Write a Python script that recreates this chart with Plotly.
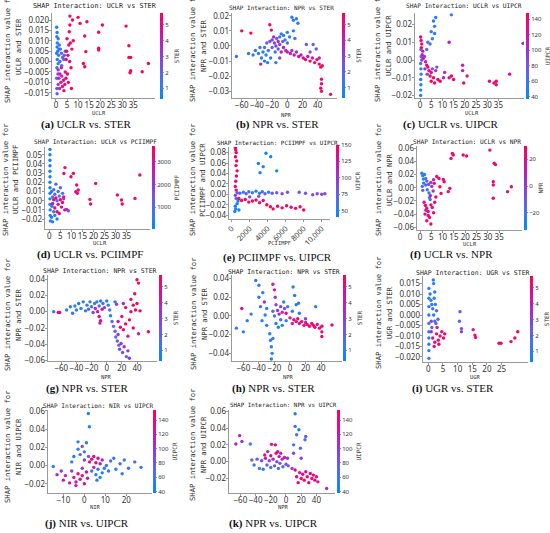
import plotly.graph_objects as go

W, H = 550, 533

# ---- data: (feature value, SHAP interaction value, colour feature value)
pts_a = [(0.3,0.0165,0.8),(0.5,0.014,1),(0.4,0.012,0.9),(1.0,0.011,1.2),(0.6,0.009,1),(1.5,0.008,1.3),(0.5,0.007,0.8),
         (2.0,0.006,1.5),(0.8,0.005,1),(2.5,0.004,1.8),(1.2,0.003,1.1),(3.0,0.002,2),(0.6,0.001,0.9),(1.8,0.000,1.4),
         (3.5,0.001,2.2),(1.0,-0.001,1.2),(2.6,-0.002,2.5),(0.4,-0.003,1),(3.8,0.003,2.8),(4.2,0.005,2.5),(0.3,-0.008,1.5),
         (0.4,-0.013,2),(0.5,-0.0155,2.2),(0.3,0.004,1),(1.4,0.006,1),
         (1.0,-0.004,3.5),(1.8,-0.006,4),(2.6,-0.007,4.5),(1.3,-0.008,3.8),(3.4,-0.009,5),(2.2,-0.010,4.8),(4.0,-0.011,5.2),
         (2.9,-0.012,5),(1.6,-0.013,4.2),(3.6,-0.014,5.5),(4.5,-0.008,5.3),(1.0,-0.011,3),(2.4,-0.003,4),(4.2,-0.005,5),
         (0.9,-0.006,3.2),
         (5.0,0.011,5.2),(5.8,0.008,5.5),(6.5,0.009,5.3),(4.8,0.005,5),(5.4,0.003,5.4),(7.2,0.006,5.5),(6.2,0.000,5.2),
         (4.6,0.001,4.8),(6.8,-0.003,5.6),(5.2,-0.006,5.3),(7.8,0.010,5.5),(5.6,-0.010,5.5),(6.0,0.0144,5.5),
         (6.3,0.0176,5.6),(7.0,-0.013,5.4),
         (6.3,0.0219,5.5),(7.5,0.020,5.5),(10,0.0213,5.5),(10.9,0.0184,5.5),(14,0.0192,5.5),(21,0.0176,5.5),
         (31.7,0.0171,5.5),(19.3,0.0141,5.5),(13,0.0123,5.5),(19.3,0.0064,5.5),(19.3,0.0056,5.5),(33,0.0076,5.5),
         (33,0.002,5.5),(33.8,0.002,5.5),(13.5,0.0048,5.5),(12.4,-0.0009,5.5),(13,-0.0025,5.5),(33.8,-0.0044,5.5),
         (33.5,-0.0054,5.5),(39,-0.0049,5.5),(41.8,-0.0009,5.5)]

pts_b = [(-67,-0.007,1),(-51,-0.005,1),(-45,-0.006,1.2),(-42,-0.003,1),(-38,-0.005,1),(-36,-0.001,1.3),(-34,-0.008,1),
         (-32,-0.004,1.1),(-30,-0.010,1),(-30,-0.001,1.5),(-28,-0.006,1),(-27,0.002,2),(-26,-0.011,1),(-25,-0.003,1.2),
         (-23,0.003,2.5),(-22,-0.008,1),(-20,0.004,3),(-20,-0.001,2),(-18,0.006,3.5),(-17,0.002,3),(-16,-0.004,1.5),
         (-15,0.000,3),(-14,0.005,2.5),(-12,0.003,3.5),(-12,-0.002,2),(-10,0.006,1.5),(-10,0.001,3),(-8,0.008,1),
         (-8,-0.004,4),(-6,0.003,2),(-5,-0.001,4.5),(-5,0.007,1),(-3,0.004,1.2),(-2,-0.003,4),(0,0.009,1),(0,0.002,1.5),
         (3,0.006,1),(6,0.019,1),(8,0.017,1),(12,0.018,1.2),(14,0.015,1),(8,0.010,1),(10,0.005,1.5),(-23,0.014,5),
         (-21,0.0105,5),(-60,0.010,5.5),(-48,0.0085,5.5),(-35,-0.012,4),(0,-0.004,4),(4,-0.005,4.5),(6,-0.003,3),
         (9,-0.006,4.5),(12,-0.004,3.5),(15,-0.007,5),(18,-0.006,4),(21,-0.008,5),(24,-0.009,5.2),(27,-0.007,4.5),
         (30,-0.010,5.5),(33,-0.008,4),(36,-0.011,5.3),(39,-0.009,5),(42,-0.012,5.5),(44,-0.014,5.4),(46,-0.013,5.6),
         (25,0.001,2),(30,-0.004,2.5),(34,0.001,2),(38,-0.002,2),(42,-0.008,4),(45,-0.022,5),(45,-0.025,5.3),
         (44,-0.028,5.5),(45,-0.030,5.5),(57,-0.032,5.5),(-10,-0.008,3),(-15,-0.011,1)]

pts_c = [(0.3,-0.020,45),(0.3,-0.017,50),(0.4,-0.014,48),(0.3,-0.011,52),(0.5,-0.008,55),(0.4,-0.005,50),(0.3,-0.002,60),
         (0.5,0.002,58),(0.4,0.006,55),
         (0.3,0.013,140),(0.5,0.011,130),(0.8,0.009,135),(0.6,0.007,145),(1.2,0.005,120),(1.0,0.003,110),(1.5,0.001,130),
         (0.8,0.000,100),
         (2.0,0.002,95),(2.5,-0.001,115),(3.0,-0.003,130),(2.2,-0.005,100),(3.5,-0.004,140),(4.0,-0.006,135),
         (5.0,-0.007,145),(4.5,-0.009,140),(6.0,-0.010,145),(3.2,-0.008,90),(5.5,-0.005,85),(7.0,-0.006,100),
         (7.5,-0.004,80),
         (5.0,-0.012,145),(6.5,-0.013,148),(8.0,-0.011,140),(9.0,-0.012,145),(10.5,-0.010,110),
         (4.5,0.009,60),(5.5,0.012,55),(5.0,0.016,50),(6.5,0.015,50),(6.0,0.022,50),(7.0,0.024,48),(6.5,0.019,52),
         (3.5,0.010,65),(3.0,0.006,70),
         (14,0.0255,55),(13,0.010,110),(11,-0.007,100),(13,-0.010,130),(14,-0.009,140),(15,-0.011,145),(19,-0.003,110),
         (19,-0.006,115),(21,-0.009,120),(19.5,-0.013,140),(33,-0.013,140),(34,-0.012,145),(34,-0.014,140),
         (31,-0.012,135),(40,-0.008,130),(46,0.0094,100)]

pts_d = [(0.3,0.0558,300),(0.3,0.050,300),(0.3,0.044,320),(0.3,0.038,300),(0.3,0.032,310),(0.3,0.026,300),
         (0.3,0.020,330),(0.3,0.014,310),(0.3,0.008,320),(0.3,0.002,300),(0.3,-0.004,340),(0.4,-0.010,350),
         (0.4,-0.016,380),(0.5,-0.022,360),
         (1.0,-0.018,400),(1.5,-0.023,420),(2.0,-0.012,500),(2.5,-0.016,450),(1.2,-0.006,600),(3.5,-0.020,500),
         (1.0,0.010,500),(1.5,0.004,700),
         (2.0,0.012,900),(3.0,0.018,1100),(4.0,0.010,800),(5.0,0.014,1200),(6.0,0.008,700),(4.5,0.005,1300),
         (6.5,0.002,1500),(3.5,0.000,1000),(2.5,0.007,1200),
         (1.5,-0.003,2800),(2.5,-0.008,3200),(3.5,-0.012,3400),(4.0,-0.004,3100),(5.0,0.001,3300),(5.5,-0.007,3400),
         (6.5,0.004,3200),(2.0,0.001,3000),(3.0,0.003,3300),(4.5,-0.014,3400),(7.0,-0.010,3200),(6.0,-0.002,3300),
         (7.8,-0.0094,2000),(8.6,-0.011,1800),
         (6.6,0.0297,3400),(7.1,0.036,3400),(9.8,0.026,3300),(10.9,0.0297,3400),(12.4,0.017,3300),(13.1,0.0116,3300),
         (12,0.0098,3400),(12.7,0.008,3300),(21,0.0188,3300),(18.4,0.0014,3400),(18.7,-0.0036,3400),(30.8,0.0062,3300),
         (32.7,0.0007,3400),(33,-0.0036,3400),(38.8,0.0025,3300),(41,0.028,3400)]

pts_e = [(400,0.089,148),(450,0.085,145),(500,0.080,150),(420,0.072,145),(550,0.064,148),(480,0.055,146),
         (600,0.045,148),(520,0.035,145),(450,0.025,140),(400,0.015,135),(500,0.008,140),
         (350,-0.033,45),(450,-0.028,48),(400,-0.023,50),(600,-0.018,45),(700,-0.013,55),(800,-0.030,48),(500,-0.008,52),
         (400,-0.002,100),(600,0.003,90),(900,0.002,70),(1300,0.004,60),(1600,0.001,75),(1900,0.005,55),(2300,0.003,65),
         (2700,0.006,50),(3100,0.002,60),(3400,0.005,55),(3700,0.001,80),(4100,0.004,60),(4500,0.002,75),
         (5000,0.003,80),(5600,0.001,85),(6200,0.004,80),(7500,0.004,80),(8200,0.002,85),(9000,-0.001,85),
         (9500,0.001,90),(10000,0.000,85),(10350,0.001,90),
         (800,-0.008,140),(1100,-0.012,145),(1500,-0.010,148),(1900,-0.015,145),(2300,-0.013,150),(2700,-0.011,145),
         (3100,-0.016,148),(3500,-0.012,145),(3900,-0.020,150),(4300,-0.024,148),(4600,-0.028,145),(5100,-0.023,150),
         (5600,-0.026,148),(6100,-0.022,145),(6600,-0.025,150),(7100,-0.027,148),(7600,-0.024,145),(8000,-0.030,150),
         (2960,0.059,50),(3810,0.0786,45),(4330,0.072,48),(3150,0.0415,50),(5000,0.045,45),(3500,0.053,52),
         (2000,-0.005,90),(3000,-0.004,85)]

pts_f = [(0.8,0.022,-32),(1.2,0.018,-25),(1.5,0.013,-28),(2.0,0.020,-20),(2.5,0.014,-22),(1.6,0.007,-25),(1.0,0.002,-15),
         (2.5,0.004,-25),(3.2,-0.003,-20),(3.0,0.010,-10),(4.0,-0.008,-25),(4.2,-0.015,-20),(3.8,0.005,-5),
         (1.2,-0.004,-10),(4.5,-0.018,-22),
         (4.8,0.008,0),(5.2,0.002,5),(6.0,0.012,10),(5.8,-0.005,5),(4.6,-0.012,12),
         (1.8,-0.022,20),(2.4,-0.027,25),(3.0,-0.031,22),(3.6,-0.036,25),(2.2,-0.040,20),(4.2,-0.045,28),(3.0,-0.050,25),
         (4.8,-0.055,28),(3.6,-0.042,24),(5.4,-0.030,20),(6.5,-0.022,25),(6.0,-0.038,22),(4.8,-0.026,26),
         (2.6,-0.034,18),(7.0,-0.014,25),
         (7.4,0.017,25),(8.4,0.014,25),(10.3,0.0126,25),(10.7,0.009,25),(6.3,0.0066,25),(13.2,-0.001,25),
         (12.5,-0.006,25),(14.3,0.052,25),(14.7,0.0495,25),(13.7,0.0444,25),(19.1,0.0495,25),(20.6,0.048,25),
         (30.9,0.057,25),(32.8,0.037,25),(33.4,0.035,25),(32.4,0.009,25),(32.4,0.004,25),(32.4,-0.016,25),
         (38.7,-0.006,20),(40.4,0.0015,25),(9.3,-0.0086,25),(8.8,0.0015,25)]

pts_g = [(-70,0.000,1),(-64,-0.001,5),(-62,-0.001,5),(-53,0.002,1),(-48,0.006,1),(-45,-0.002,1),(-42,0.007,1.2),
         (-40,0.002,1),(-37,0.010,1),(-34,0.004,1.3),(-31,0.012,1),(-28,0.001,1),(-26,0.008,1.5),(-24,0.003,2),
         (-22,0.012,1),(-20,0.006,1.2),(-18,-0.001,3),(-16,0.010,1.5),(-15,0.004,4),(-13,0.012,1),(-12,0.000,4.5),
         (-10,0.007,2),(-10,-0.006,5),(-8,0.013,1),(-8,-0.011,5),(-6,0.003,4),(-5,0.010,1.5),(-9,-0.014,4.5),
         (-3,0.005,3),(0,0.013,1),(2,0.008,1),(4,0.002,1.5),(5,-0.005,1),(7,-0.012,1.5),(11,0.012,1),(13,0.009,3),
         (9,-0.018,2),(11,-0.024,2.5),(12,-0.031,2),(14,-0.036,2.5),(15,-0.028,3),(16,-0.041,2),(17,-0.046,2.5),
         (19,-0.039,3),(21,-0.050,2.5),(23,-0.043,3.5),(26,-0.055,2),(28,-0.048,3),(30,-0.057,3),(15,-0.012,4.5),
         (18,-0.019,5),(20,-0.006,5),(22,-0.022,5.3),(25,-0.015,5.5),(25,0.005,5),(28,-0.030,4.5),(30,-0.010,5.5),
         (32,0.000,5.3),(35,0.008,5.5),(35,-0.020,5),(38,0.002,5.5),(40,0.010,5.5),(40,0.039,5.5),(42,0.035,5.4),
         (37,0.022,5.5),(44,0.001,5.5),(55,-0.0245,5.5),(32,0.015,5),(22,0.010,4),(42,-0.027,4)]

pts_h = [(-69,-0.013,1),(-62,0.008,5),(-60,-0.017,1),(-55,-0.005,1),(-50,0.002,1),(-44,0.038,1),(-40,0.033,1.2),
         (-40,0.020,1),(-38,0.010,1.5),(-36,-0.005,1),(-35,0.025,1),(-33,0.015,3.5),(-32,0.001,1),(-30,-0.010,1),
         (-30,0.008,1.3),(-22,0.034,4),(-20,0.028,4.5),(-19,0.020,3),(-26,-0.019,1),(-25,-0.026,1),(-24,-0.033,1),
         (-23,-0.040,1),(-24,-0.046,1),(-22,-0.024,1.2),(-22,0.005,2),(-20,0.000,1.5),(-18,0.012,3),(-18,-0.008,1),
         (-16,0.006,3.5),(-14,0.002,4),(-15,-0.012,1),(-12,0.010,3),(-12,-0.004,1.2),(-10,0.004,3.5),(-10,-0.010,1),
         (-8,0.015,1),(-7,0.008,2.5),(-5,0.003,5),(-5,-0.005,1),(-3,0.010,1.5),(0,-0.002,5),(3,0.005,1),(4,0.031,1),
         (6,0.022,1),(8,0.012,1),(11,0.0136,1),(12,0.003,1),(3,-0.008,4),(5,-0.004,5),(8,-0.006,5.2),(10,-0.003,5),
         (12,-0.008,4.5),(15,-0.006,5.3),(18,-0.010,5),(20,-0.007,4),(22,-0.009,5.5),(25,-0.011,5.3),(28,-0.008,5),
         (30,-0.010,5.5),(32,-0.012,5.2),(35,-0.009,5),(38,-0.013,5.5),(41,-0.011,5.4),(41,-0.017,5.5),
         (41,-0.022,5.3),(33,0.010,1),(54,-0.0096,5.5),(20,-0.003,3)]

pts_i = [(0.2,-0.0207,1),(0.2,-0.017,1),(0.2,-0.014,1),(0.2,-0.011,1),(0.2,-0.008,1),(0.2,-0.004,1.2),(0.2,0.000,1),
         (0.2,0.004,1),(0.2,0.008,1),(0.2,0.0127,1),
         (0.6,0.010,1),(0.9,0.007,1.2),(1.2,0.005,1),(1.5,0.003,1.5),(1.8,0.000,1),(2.2,-0.003,1.3),(1.2,-0.006,2),
         (2.0,0.008,1),(2.4,0.005,1.5),(1.7,0.0167,1),(1.8,0.015,1),(2.2,0.011,1),(2.8,0.002,1.5),(3.3,-0.002,2),
         (2.6,-0.004,2.5),(1.0,-0.003,3),
         (1.0,-0.008,3.5),(1.5,-0.011,4.5),(2.2,-0.013,5),(2.8,-0.009,5.2),(3.4,-0.012,5.5),(4.0,-0.010,5),
         (4.6,-0.008,5.3),(5.2,-0.011,5.5),(3.0,-0.006,4),(2.0,-0.015,5),(3.6,-0.014,5.5),(5.6,-0.009,5.4),
         (10.8,0.0016,2.5),(10.6,-0.003,2),(11.3,-0.0065,2.5),(11.3,-0.008,2.8),(15.3,-0.007,4),(15.9,-0.0096,5),
         (16.1,-0.0107,5),(24.1,-0.0135,5.5),(24.8,-0.0135,5.5),(28.2,-0.0127,5.5),(29.5,-0.011,5.5),(30.5,-0.008,5.5)]

pts_j = [(-14.8,-0.001,60),(-13,-0.010,110),(-11,-0.006,100),(-10,-0.016,120),(-9,-0.011,115),(-7,-0.019,125),
         (-6,-0.006,95),(-5,-0.013,130),(-4,-0.018,120),(-3,-0.009,140),(-2,-0.015,135),(-1,-0.011,145),(0,-0.020,130),
         (1,-0.007,140),(1.5,-0.014,125),(-1,-0.003,100),(-6,0.004,60),(-5,0.010,50),(-3,0.018,55),(-2,0.012,70),
         (-1,0.021,90),(0,0.015,60),(1,0.025,50),(2,0.010,80),(0,0.006,100),(-3,0.026,60),(1.9,0.057,50),
         (2.4,0.0425,45),(2.5,0.004,130),(3.5,0.007,145),(4.5,0.010,130),(5.5,0.003,140),(6.5,0.008,135),
         (7.5,0.002,125),(8.5,0.006,110),(4.5,-0.002,120),(3.5,-0.006,60),(5.5,-0.010,50),(6.5,-0.004,55),
         (7.5,-0.013,50),(8.5,-0.008,45),(9.5,-0.003,55),(10.5,0.000,60),(11.5,-0.006,50),(12.5,0.005,70),
         (6,-0.016,50),(14,0.008,60),(15,-0.004,55),(17,0.002,65),(19,0.006,60),(21,-0.003,55),(24,0.004,65),
         (27,-0.002,55),(18,-0.009,60),(-4,-0.022,120)]

pts_k = [(-66,0.021,110),(-61,0.031,120),(-58,0.024,100),(-47,0.021,60),(-45,0.002,70),(-42,-0.004,65),(-38,0.003,80),
         (-35,-0.008,60),(-32,0.001,90),(-30,-0.009,55),(-28,0.008,130),(-27,0.004,120),(-25,-0.004,75),(-24,0.012,120),
         (-22,0.001,95),(-20,0.007,140),(-20,-0.007,60),(-19,0.0206,130),(-17,0.003,110),(-15,-0.005,80),
         (-14,0.020,140),(-13,0.010,135),(-12,0.000,90),(-11,0.012,140),(-10,-0.008,60),(-9,0.006,125),(-8,-0.002,85),
         (-7,0.010,110),(-5,0.003,100),(-4,-0.006,70),(-2,0.005,120),(0,-0.003,80),(2,0.004,100),(3,-0.005,75),
         (12,0.057,50),(12,0.042,55),(14,0.032,60),(17,0.038,50),(25,0.026,55),(10,0.020,60),(19,0.016,65),
         (26,0.030,80),(10,0.010,90),(12,-0.010,140),(14,-0.018,135),(16,-0.025,145),(18,-0.013,130),(20,-0.020,148),
         (22,-0.015,140),(24,-0.022,145),(26,-0.012,135),(28,-0.018,148),(30,-0.025,140),(32,-0.014,145),
         (34,-0.020,140),(36,-0.016,138),(38,-0.022,145),(40,-0.018,140),(42,-0.024,120),(53.5,-0.032,100),
         (8,-0.008,100),(20,0.004,90)]

# tick values
uclr_ticks = [0, 5, 10, 15, 20, 25, 30, 35]
npr_ticks = [-60, -40, -20, 0, 20, 40]
ugr_ticks = [0, 5, 10, 15, 20, 25]
nir_ticks = [-10, 0, 10, 20]
pcii_ticks = [0, 2000, 4000, 6000, 8000, 10000]
pcii_labels = ["0", "2000", "4000", "6000", "8000", "10,000"]
ster_cb = [1, 2, 3, 4, 5]
uipcr_cb = [40, 60, 80, 100, 120, 140]
uipcr_cb_e = [50, 75, 100, 125, 150]
pcii_cb = [1000, 2000, 3000]
npr_cb = [-20, 0, 20]

# SHAP red-blue colormap
red_blue = [[0, "rgb(0,138,250)"], [0.2, "rgb(62,117,244)"], [0.4, "rgb(118,82,233)"], [0.5, "rgb(140,60,225)"],
            [0.6, "rgb(173,40,206)"], [0.8, "rgb(222,12,152)"], [1, "rgb(255,0,82)"]]

MONO = "DejaVu Sans Mono"
SANS = "Noto Sans"
SERIF = "Liberation Serif"

# layout of each panel, in pixels of the 550x533 page
# ylab = (x of first line, x of second line, y centre)
panels = [
    dict(pts=pts_a, box=(52, 155, 13, 98), xr=[-1.8, 44.8], yr=[-0.01755, 0.0234], xt=uclr_ticks,
         yt=[-0.015, -0.010, -0.005, 0.0, 0.005, 0.010, 0.015, 0.020], nd=3, cr=[0.33, 5.74], ct=ster_cb,
         fx="UCLR", fc="STER", cb=(160, 13, 99), title=(95, 6, 6.8), ylab=(7, 18, 47), xlab=(99, 113),
         cap=("(a)", "UCLR vs. STER", 86, 125)),
    dict(pts=pts_b, box=(232, 337, 13, 98), xr=[-72.8, 65.4], yr=[-0.0344, 0.0218], xt=npr_ticks,
         yt=[-0.03, -0.02, -0.01, 0.0, 0.01, 0.02], nd=2, cr=[0.33, 5.74], ct=ster_cb,
         fx="NPR", fc="STER", cb=(342, 13, 98), title=(281, 7, 6.0), ylab=(193, 204, 46), xlab=(286, 115),
         cap=("(b)", "NPR vs. STER", 277, 125)),
    dict(pts=pts_c, box=(415, 524, 13, 98), xr=[-2.23, 46.4], yr=[-0.02147, 0.02655], xt=uclr_ticks,
         yt=[-0.02, -0.01, 0.0, 0.01, 0.02], nd=2, cr=[37, 148], ct=uipcr_cb,
         fx="UCLR", fc="UIPCR", cb=(526, 13, 99), title=(464, 6, 6.2), ylab=(378, 389, 46), xlab=(472, 113),
         cap=("(c)", "UCLR vs. UIPCR", 450, 125)),
    dict(pts=pts_d, box=(45, 150, 147, 229), xr=[-1.95, 45.6], yr=[-0.0308, 0.0584], xt=uclr_ticks,
         yt=[-0.02, -0.01, 0.0, 0.01, 0.02, 0.03, 0.04, 0.05], nd=2, cr=[40, 3690], ct=pcii_cb,
         fx="UCLR", fc="PCIIMPF", cb=(152, 146, 229), title=(95, 142, 6.2), ylab=(5, 15, 180), xlab=(100, 243),
         cap=("(d)", "UCLR vs. PCIIMPF", 90, 255)),
    dict(pts=pts_e, box=(229, 330, 147, 219), xr=[-300, 10922], yr=[-0.0474, 0.0907], xt=pcii_ticks, xtt=pcii_labels,
         yt=[-0.04, -0.02, 0.0, 0.02, 0.04, 0.06, 0.08], nd=2, cr=[40, 150], ct=uipcr_cb_e,
         fx="PCIIMPF", fc="UIPCR", cb=(336, 145, 217), title=(277, 143, 5.9), ylab=(192, 202, 180), xlab=(279, 243),
         cap=("(e)", "PCIIMPF vs. UIPCR", 277, 257)),
    dict(pts=pts_f, box=(417, 522, 146, 230), xr=[-1.33, 45.1], yr=[-0.0641, 0.0632], xt=uclr_ticks,
         yt=[-0.06, -0.04, -0.02, 0.0, 0.02, 0.04, 0.06], nd=2, cr=[-33, 30], ct=npr_cb,
         fx="UCLR", fc="NPR", cb=(524, 146, 230), title=(467, 142, 6.2), ylab=(378, 389, 180), xlab=(470, 244),
         cap=("(f)", "UCLR vs. NPR", 451, 255)),
    dict(pts=pts_g, box=(48, 157, 275, 361), xr=[-77.5, 66.4], yr=[-0.0604, 0.0449], xt=npr_ticks,
         yt=[-0.06, -0.04, -0.02, 0.0, 0.02, 0.04], nd=2, cr=[0.33, 5.74], ct=ster_cb,
         fx="NPR", fc="STER", cb=(159, 275, 361), title=(100, 271, 6.5), ylab=(7, 18, 315), xlab=(106, 377),
         cap=("(g)", "NPR vs. STER", 87, 388)),
    dict(pts=pts_h, box=(232, 342, 275, 361), xr=[-74.6, 66.9], yr=[-0.0482, 0.0439], xt=npr_ticks,
         yt=[-0.04, -0.02, 0.0, 0.02, 0.04], nd=2, cr=[0.33, 5.74], ct=ster_cb,
         fx="NPR", fc="STER", cb=(343, 275, 361), title=(284, 272, 6.4), ylab=(193, 204, 314), xlab=(288, 377),
         cap=("(h)", "NPR vs. STER", 273, 388)),
    dict(pts=pts_i, box=(423, 528, 276, 362), xr=[-1.81, 34.0], yr=[-0.02244, 0.01862], xt=ugr_ticks,
         yt=[-0.020, -0.015, -0.010, -0.005, 0.0, 0.005, 0.010, 0.015], nd=3, cr=[0.33, 5.74], ct=ster_cb,
         fx="UGR", fc="STER", cb=(530, 276, 362), title=(473, 273, 6.5), ylab=(378, 389, 313), xlab=(475, 377),
         cap=("(i)", "UGR vs. STER", 453, 388)),
    dict(pts=pts_j, box=(48, 152, 410, 493), xr=[-17.3, 32.2], yr=[-0.0301, 0.0609], xt=nir_ticks,
         yt=[-0.02, 0.0, 0.02, 0.04, 0.06], nd=2, cr=[38, 154], ct=uipcr_cb,
         fx="NIR", fc="UIPCR", cb=(153, 410, 493), title=(98, 405, 6.1), ylab=(7, 18, 447), xlab=(95, 507),
         cap=("(j)", "NIR vs. UIPCR", 87, 523)),
    dict(pts=pts_k, box=(229, 335, 410, 493), xr=[-75, 64.5], yr=[-0.0373, 0.0615], xt=npr_ticks,
         yt=[-0.02, 0.0, 0.02, 0.04, 0.06], nd=2, cr=[38, 154], ct=uipcr_cb,
         fx="NPR", fc="UIPCR", cb=(337, 410, 493), title=(283, 405, 5.9), ylab=(192, 203, 445), xlab=(283, 507),
         cap=("(k)", "NPR vs. UIPCR", 273, 523)),
]


def fx_(px):
    return px / W


def fy_(py):
    return 1 - py / H


def ticklabels(vals, nd):
    return [f"{v:.{nd}f}".replace("-", "\u2212") for v in vals]


def note(x, y, text, font, **kw):
    return dict(x=fx_(x), y=fy_(y), xref="paper", yref="paper", showarrow=False,
                xanchor="center", yanchor="middle", text=text, font=font, **kw)


fig = go.Figure()
annotations = []
axis_style = dict(showgrid=False, zeroline=False, showline=True, linecolor="#999", linewidth=0.8,
                  ticks="outside", ticklen=2.5, tickcolor="#999", tickwidth=0.8)

for n, p in enumerate(panels, start=1):
    xs = [q[0] for q in p["pts"]]
    ys = [q[1] for q in p["pts"]]
    cs = [q[2] for q in p["pts"]]
    L, R, T, B = p["box"]
    cbx, cbt, cbb = p["cb"]
    sx = "" if n == 1 else str(n)
    fig.add_trace(go.Scatter(
        x=xs, y=ys, mode="markers", xaxis="x" + sx, yaxis="y" + sx, showlegend=False,
        marker=dict(size=3.4, color=cs, colorscale=red_blue, cmin=p["cr"][0], cmax=p["cr"][1], line=dict(width=0),
                    showscale=True,
                    colorbar=dict(x=fx_(cbx), xanchor="left", y=fy_(cbb), yanchor="bottom",
                                  len=(cbb - cbt) / H, lenmode="fraction", thickness=3, xpad=0, ypad=0,
                                  outlinewidth=0, ticks="outside", ticklen=1.5, tickcolor="#999",
                                  tickvals=p["ct"], tickfont=dict(family=SANS, size=6, color="#333"),
                                  title=dict(text=p["fc"], side="right", font=dict(family=MONO, size=6, color="#333"))))
    ))
    xa = dict(axis_style, domain=[fx_(L), fx_(R)], range=p["xr"], anchor="y" + sx, tickvals=p["xt"],
              tickangle=0, ticklabelstandoff=-3, tickfont=dict(family=SANS, size=8, color="#333"))
    if "xtt" in p:
        xa.update(ticktext=p["xtt"], tickangle=-45, ticklabelstandoff=-1,
                  tickfont=dict(family=SANS, size=7.5, color="#333"))
    ya = dict(axis_style, domain=[fy_(B), fy_(T)], range=p["yr"], anchor="x" + sx,
              tickvals=p["yt"], ticktext=ticklabels(p["yt"], p["nd"]), ticklabelstandoff=-2,
              tickfont=dict(family=SANS, size=8, color="#333"))
    fig.update_layout({"xaxis" + sx: xa, "yaxis" + sx: ya})

    tx, ty, tsize = p["title"]
    annotations.append(note(tx, ty, f"SHAP Interaction: {p['fx']} vs {p['fc']}",
                            dict(family=MONO, size=tsize, color="#222")))
    l1, l2, ly = p["ylab"]
    lab_font = dict(family=MONO, size=7.2, color="#333")
    annotations.append(note(l1, ly, "SHAP interaction value for", lab_font, textangle=-90))
    annotations.append(note(l2, ly, f"{p['fx']} and {p['fc']}", lab_font, textangle=-90))
    ax_, ay_ = p["xlab"]
    annotations.append(note(ax_, ay_, p["fx"], dict(family=MONO, size=5.5, color="#333")))
    letter, cap, cx, cy = p["cap"]
    annotations.append(note(cx, cy, f"<b>{letter}</b> {cap}", dict(family=SERIF, size=11, color="#111")))

fig.update_layout(width=W, height=H, margin=dict(l=0, r=0, t=0, b=0, autoexpand=False), paper_bgcolor="white",
                  plot_bgcolor="white", annotations=annotations)

# the page body has a default 8px margin; drop it so the figure sits at the window corner
fig.write_html("out.html", config={"displayModeBar": False},
               post_script="document.body.style.margin='0';")
